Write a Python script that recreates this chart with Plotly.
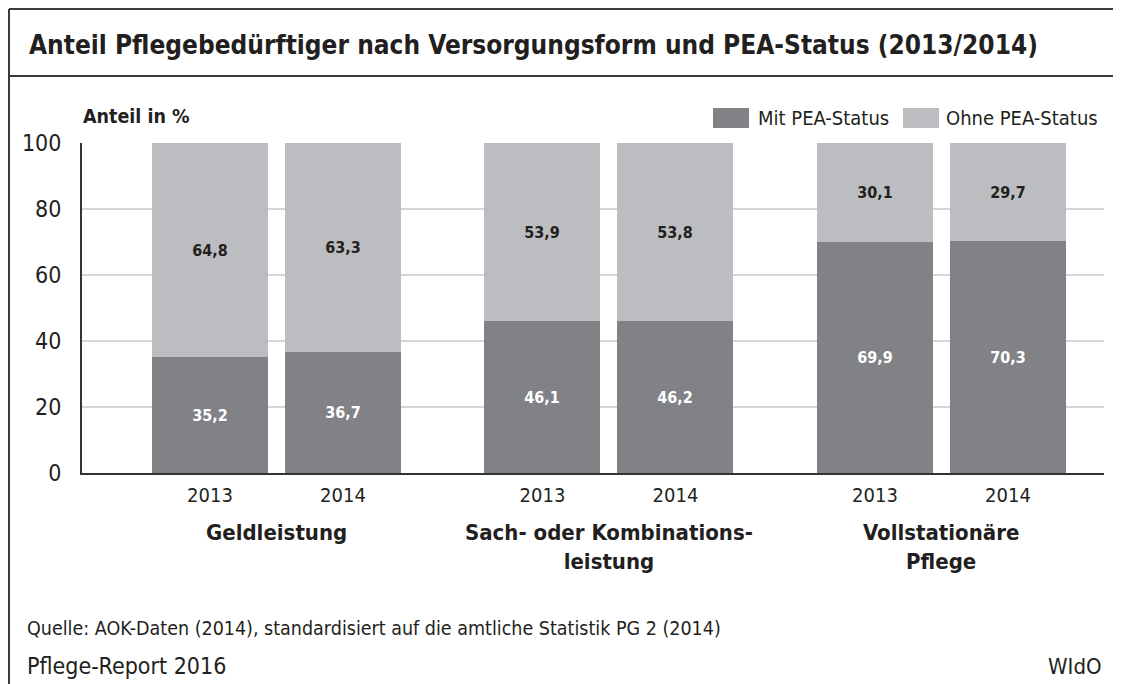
import plotly.graph_objects as go

# ---- data ----
categories = ["Geldleistung", "Sach- oder Kombinations-<br>leistung", "Vollstationäre<br>Pflege"]
years = ["2013", "2014"]
mit_pea = [35.2, 36.7, 46.1, 46.2, 69.9, 70.3]
ohne_pea = [64.8, 63.3, 53.9, 53.8, 30.1, 29.7]
series_names = ["Mit PEA-Status", "Ohne PEA-Status"]
y_ticks = [0, 20, 40, 60, 80, 100]

# ---- style ----
FONT = "DejaVu Sans Condensed, Liberation Sans Narrow, Roboto, sans-serif"
DARK = "#818286"
LIGHT = "#bcbdc0"
TXT = "#231f20"
OFF = 8  # page body margin
W, H = 1121 - OFF, 684 - OFF
L, R, T, B = 82, 1104, 143, 473  # plot area in page pixels


def px(X):
    return (X - L) / (R - L)


def py(Y):
    return (B - Y) / (B - T)


# x positions (layout): groups of two bars
x_pos = []
x_text = []
group_centers = []
for g in range(len(categories)):
    for j in range(len(years)):
        x_pos.append(0.962 + g * 2.5 + j)
        x_text.append(years[j])
    group_centers.append(0.962 + g * 2.5 + 0.5)

fig = go.Figure()
fig.add_trace(go.Bar(
    x=x_pos, y=mit_pea, name=series_names[0], marker=dict(color=DARK, line=dict(width=0)),
    width=0.872, texttemplate="%{y:.1f}", textposition="inside", insidetextanchor="middle",
    textfont=dict(family=FONT, size=16, color="white", weight="bold"), showlegend=False,
))
fig.add_trace(go.Bar(
    x=x_pos, y=ohne_pea, name=series_names[1], marker=dict(color=LIGHT, line=dict(width=0)),
    width=0.872, texttemplate="%{y:.1f}", textposition="inside", insidetextanchor="middle",
    textfont=dict(family=FONT, size=16, color=TXT, weight="bold"), showlegend=False,
))

fig.update_layout(
    width=W, height=H,
    margin=dict(l=L - OFF, r=W - (R - OFF), t=T - OFF, b=H - (B - OFF), pad=0),
    barmode="stack",
    separators=",.",
    plot_bgcolor="white", paper_bgcolor="white",
    font=dict(family=FONT, color=TXT),
    bargap=0,
)
fig.update_xaxes(
    range=[0, (R - L) / 133], tickvals=x_pos, ticktext=x_text, showgrid=False,
    showline=True, linecolor="#333333", linewidth=2, ticks="", zeroline=False,
    tickfont=dict(family=FONT, size=20, color=TXT), ticklabelstandoff=3, fixedrange=True,
)
fig.update_yaxes(
    range=[0, 100], tickvals=y_ticks, showgrid=True, gridcolor="#d6d6d6", gridwidth=1.5,
    showline=True, linecolor="#333333", linewidth=2, ticks="", zeroline=False,
    tickfont=dict(family=FONT, size=23, color=TXT), ticklabelstandoff=14, fixedrange=True,
)

shapes = []
LC = "#3a3a3a"
# frame
shapes.append(dict(type="line", xref="paper", yref="paper", x0=px(9), x1=px(1130), y0=py(9), y1=py(9), line=dict(color=LC, width=2)))
shapes.append(dict(type="line", xref="paper", yref="paper", x0=px(9), x1=px(1130), y0=py(76), y1=py(76), line=dict(color=LC, width=2)))
shapes.append(dict(type="line", xref="paper", yref="paper", x0=px(9), x1=px(9), y0=py(9), y1=py(700), line=dict(color=LC, width=2)))
# custom legend swatches
shapes.append(dict(type="rect", xref="paper", yref="paper", x0=px(713), x1=px(749), y0=py(128), y1=py(108), fillcolor=DARK, line=dict(width=0)))
shapes.append(dict(type="rect", xref="paper", yref="paper", x0=px(903), x1=px(939), y0=py(128), y1=py(108), fillcolor=LIGHT, line=dict(width=0)))

annotations = []
annotations.append(dict(text="<b>Anteil Pflegebedürftiger nach Versorgungsform und PEA-Status (2013/2014)</b>",
                        xref="paper", yref="paper", x=px(27), y=py(45), xanchor="left", yanchor="middle",
                        showarrow=False, font=dict(family=FONT, size=26, color=TXT)))
annotations.append(dict(text="<b>Anteil in %</b>", xref="paper", yref="paper", x=px(81), y=py(117),
                        xanchor="left", yanchor="middle", showarrow=False, font=dict(family=FONT, size=19.5, color=TXT)))
annotations.append(dict(text=series_names[0], xref="paper", yref="paper", x=px(756), y=py(118),
                        xanchor="left", yanchor="middle", showarrow=False, font=dict(family=FONT, size=20, color=TXT)))
annotations.append(dict(text=series_names[1], xref="paper", yref="paper", x=px(944), y=py(118),
                        xanchor="left", yanchor="middle", showarrow=False, font=dict(family=FONT, size=20, color=TXT)))
for gc, cat in zip(group_centers, categories):
    annotations.append(dict(text="<b>" + cat + "</b>", xref="x", yref="paper", x=gc, y=py(518),
                            xanchor="center", yanchor="top", showarrow=False, align="center",
                            font=dict(family=FONT, size=22, color=TXT)))
annotations.append(dict(text="Quelle: AOK-Daten (2014), standardisiert auf die amtliche Statistik PG 2 (2014)",
                        xref="paper", yref="paper", x=px(25), y=py(628), xanchor="left", yanchor="middle",
                        showarrow=False, font=dict(family=FONT, size=19.5, color=TXT)))
annotations.append(dict(text="Pflege-Report 2016", xref="paper", yref="paper", x=px(25), y=py(666),
                        xanchor="left", yanchor="middle", showarrow=False, font=dict(family=FONT, size=23, color=TXT)))
annotations.append(dict(text="WIdO", xref="paper", yref="paper", x=px(1104), y=py(666),
                        xanchor="right", yanchor="middle", showarrow=False, font=dict(family=FONT, size=22, color=TXT)))

fig.update_layout(shapes=shapes, annotations=annotations)
fig.write_html("out.html")
